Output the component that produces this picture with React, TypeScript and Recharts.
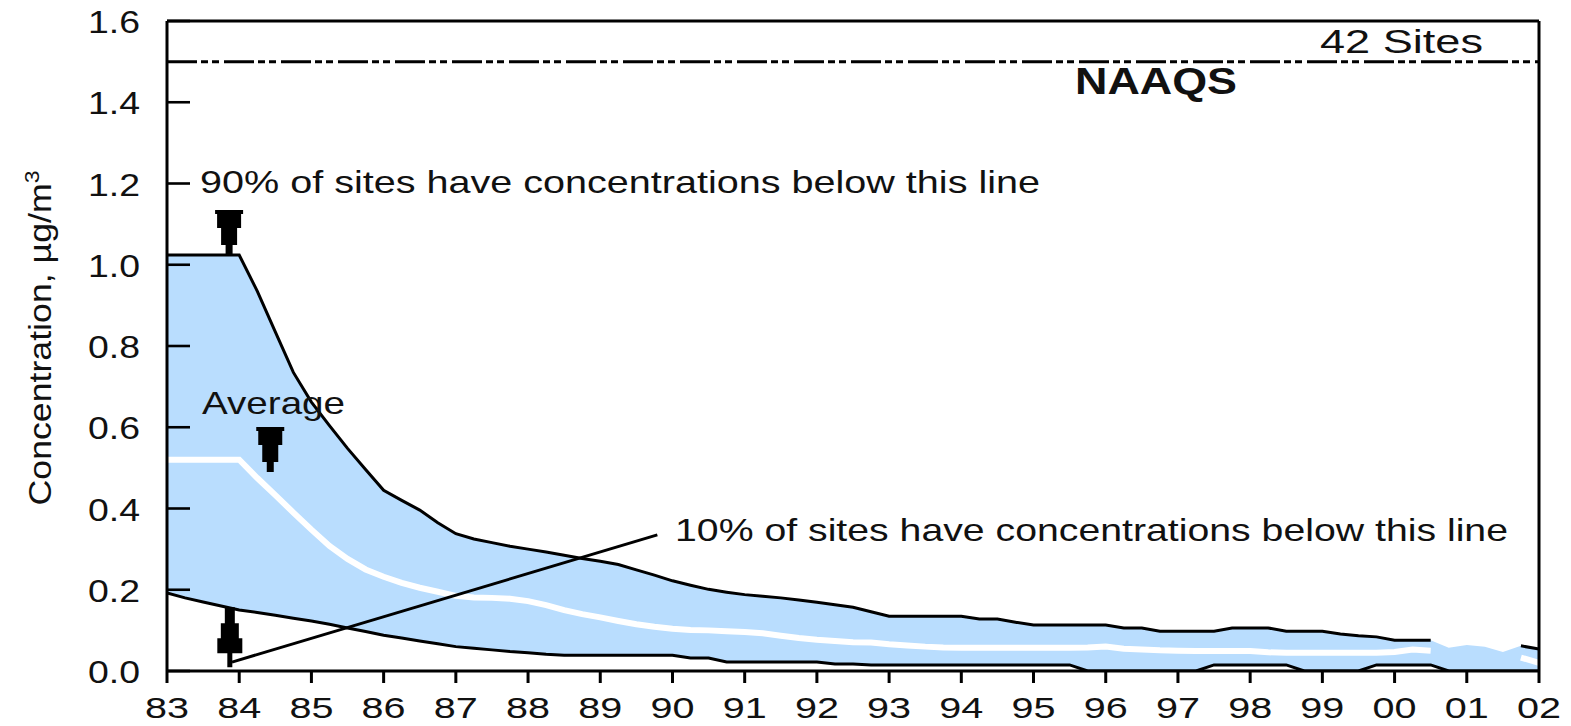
import React from "react";
import {
  ComposedChart,
  Area,
  Line,
  XAxis,
  YAxis,
  ReferenceLine,
  ReferenceDot,
} from "recharts";

// quarter-year sample points, 1983 .. 2002
const years = [
  1983, 1983.25, 1983.5, 1983.75, 1984, 1984.25, 1984.5, 1984.75, 1985, 1985.25,
  1985.5, 1985.75, 1986, 1986.25, 1986.5, 1986.75, 1987, 1987.25, 1987.5, 1987.75,
  1988, 1988.25, 1988.5, 1988.75, 1989, 1989.25, 1989.5, 1989.75, 1990, 1990.25,
  1990.5, 1990.75, 1991, 1991.25, 1991.5, 1991.75, 1992, 1992.25, 1992.5, 1992.75,
  1993, 1993.25, 1993.5, 1993.75, 1994, 1994.25, 1994.5, 1994.75, 1995, 1995.25,
  1995.5, 1995.75, 1996, 1996.25, 1996.5, 1996.75, 1997, 1997.25, 1997.5, 1997.75,
  1998, 1998.25, 1998.5, 1998.75, 1999, 1999.25, 1999.5, 1999.75, 2000, 2000.25,
  2000.5, 2000.75, 2001, 2001.25, 2001.5, 2001.75, 2002,
];

// 90th percentile (ug/m3)
const p90 = [
  1.024, 1.024, 1.024, 1.024, 1.024, 0.935, 0.835, 0.735, 0.662, 0.604,
  0.548, 0.496, 0.445, 0.42, 0.396, 0.365, 0.338, 0.325, 0.316, 0.307,
  0.3, 0.293, 0.285, 0.277, 0.27, 0.262, 0.249, 0.236, 0.222, 0.211,
  0.201, 0.194, 0.188, 0.184, 0.18, 0.175, 0.169, 0.163, 0.157, 0.146,
  0.135, 0.135, 0.135, 0.135, 0.135, 0.128, 0.128, 0.12, 0.113, 0.113,
  0.113, 0.113, 0.113, 0.106, 0.106, 0.098, 0.098, 0.098, 0.098, 0.106,
  0.106, 0.106, 0.098, 0.098, 0.098, 0.091, 0.087, 0.084, 0.076, 0.076,
  0.076, null, null, null, null, 0.062, 0.054,
];

// composite average
const avg = [
  0.52, 0.52, 0.52, 0.52, 0.52, 0.475, 0.433, 0.39, 0.348, 0.308,
  0.276, 0.25, 0.232, 0.217, 0.205, 0.195, 0.185, 0.181, 0.18, 0.178,
  0.172, 0.162, 0.15, 0.14, 0.132, 0.123, 0.115, 0.109, 0.104, 0.101,
  0.1, 0.098, 0.096, 0.093, 0.087, 0.081, 0.077, 0.074, 0.071, 0.07,
  0.066, 0.063, 0.06, 0.058, 0.057, 0.057, 0.057, 0.057, 0.057, 0.057,
  0.057, 0.058, 0.06, 0.055, 0.053, 0.051, 0.05, 0.049, 0.049, 0.049,
  0.049, 0.046, 0.045, 0.045, 0.045, 0.045, 0.045, 0.045, 0.047, 0.053,
  0.05, 0.057, 0.064, 0.06, 0.047, 0.033, 0.02,
];

// 10th percentile
const p10 = [
  0.192, 0.18, 0.17, 0.16, 0.15, 0.144, 0.137, 0.13, 0.123, 0.115,
  0.106, 0.097, 0.088, 0.081, 0.074, 0.067, 0.06, 0.056, 0.052, 0.048,
  0.045, 0.041, 0.039, 0.039, 0.039, 0.039, 0.039, 0.039, 0.039, 0.032,
  0.032, 0.022, 0.022, 0.022, 0.022, 0.022, 0.022, 0.017, 0.017, 0.015,
  0.015, 0.015, 0.015, 0.015, 0.015, 0.015, 0.015, 0.015, 0.015, 0.015,
  0.015, 0, 0, 0, 0, 0, 0, 0, 0.015, 0.015,
  0.015, 0.015, 0.015, 0, 0, 0, 0, 0.015, 0.015, 0.015,
  0.015, 0, 0, 0, 0, 0, 0,
];

const xTicks = [
  1983, 1984, 1985, 1986, 1987, 1988, 1989, 1990, 1991, 1992,
  1993, 1994, 1995, 1996, 1997, 1998, 1999, 2000, 2001, 2002,
];
const xTickLabels = [
  "83", "84", "85", "86", "87", "88", "89", "90", "91", "92",
  "93", "94", "95", "96", "97", "98", "99", "00", "01", "02",
];
const yTicks = [0, 0.2, 0.4, 0.6, 0.8, 1.0, 1.2, 1.4, 1.6];
const yTickLabels = ["0.0", "0.2", "0.4", "0.6", "0.8", "1.0", "1.2", "1.4", "1.6"];

const NAAQS = 1.5;

const FONT = '"Liberation Sans", Arial, Helvetica, sans-serif';
const INK = "#111";
const BAND = "#b9ddfe";

const chartData = years.map((year, i) => ({
  year,
  p90: p90[i],
  p10: p10[i],
  avg: p90[i] == null ? null : avg[i],
  band: [p10[i], p90[i] ?? avg[i]],
}));

const YTick = (props: any) => {
  const { x, y, payload } = props;
  const i = yTicks.findIndex((t) => Math.abs(t - payload.value) < 1e-6);
  const axisX = x + 27;
  return (
    <g>
      <line x1={axisX} x2={axisX + 23} y1={y} y2={y} stroke="#000" strokeWidth={2.6} />
      <text
        x={x}
        y={y + 12}
        textAnchor="end"
        fontSize={32}
        fontFamily={FONT}
        fill={INK}
        textLength={52}
        lengthAdjust="spacingAndGlyphs"
      >
        {yTickLabels[i]}
      </text>
    </g>
  );
};

const XTick = (props: any) => {
  const { x, y, payload } = props;
  const i = xTicks.indexOf(payload.value);
  return (
    <text
      x={x}
      y={y + 35}
      textAnchor="middle"
      fontSize={30}
      fontFamily={FONT}
      fill={INK}
      textLength={44}
      lengthAdjust="spacingAndGlyphs"
    >
      {xTickLabels[i]}
    </text>
  );
};

// stepped arrow pointing down, tip at (cx, cy)
const DownArrow = (props: any) => {
  const { cx, cy } = props;
  return (
    <path
      transform={`translate(${cx},${cy})`}
      d="M -14 -45 H 14 V -41 H 12 V -27 H 8 V -10 H 3.5 V 0 H -3.5 V -10 H -8 V -27 H -12 V -41 H -14 Z"
      fill="#000"
    />
  );
};

// stepped arrow pointing up, tip at (cx, cy)
const UpArrow = (props: any) => {
  const { cx, cy } = props;
  return (
    <path
      transform={`translate(${cx},${cy})`}
      d="M -5 0 H 5 V 16 H 9 V 31 H 12.5 V 46 H 2.5 V 60 H -2.5 V 46 H -12.5 V 31 H -9 V 16 H -5 Z"
      fill="#000"
    />
  );
};

const txt = {
  fontFamily: FONT,
  fill: INK,
} as const;

export default function App() {
  return (
    <div style={{ position: "absolute", left: 0, top: 0, width: 1571, height: 726, background: "#fff" }}>
      <ComposedChart
        width={1571}
        height={726}
        data={chartData}
        margin={{ top: 21, right: 32, left: 0, bottom: 0 }}
      >
        <XAxis
          dataKey="year"
          type="number"
          domain={[1983, 2002]}
          ticks={xTicks}
          allowDataOverflow
          height={55}
          tickSize={12}
          tickMargin={0}
          axisLine={{ stroke: "#000", strokeWidth: 3 }}
          tickLine={{ stroke: "#000", strokeWidth: 3 }}
          tick={<XTick />}
          interval={0}
        />
        <YAxis
          type="number"
          domain={[0, 1.6]}
          ticks={yTicks}
          allowDataOverflow
          width={167}
          tickSize={0}
          tickMargin={27}
          axisLine={{ stroke: "#000", strokeWidth: 3 }}
          tickLine={false}
          tick={<YTick />}
          interval={0}
        />
        <Area
          dataKey="band"
          type="linear"
          stroke="none"
          fill={BAND}
          fillOpacity={1}
          isAnimationActive={false}
        />
        <Line
          dataKey="avg"
          type="linear"
          stroke="#fff"
          strokeWidth={6}
          dot={false}
          activeDot={false}
          isAnimationActive={false}
        />
        <Line
          dataKey="p90"
          type="linear"
          stroke="#000"
          strokeWidth={3}
          dot={false}
          activeDot={false}
          connectNulls={false}
          isAnimationActive={false}
        />
        <Line
          dataKey="p10"
          type="linear"
          stroke="#000"
          strokeWidth={3}
          dot={false}
          activeDot={false}
          isAnimationActive={false}
        />
        <ReferenceLine y={1.6} stroke="#000" strokeWidth={3} />
        <ReferenceLine x={2002} stroke="#000" strokeWidth={3} />
        <ReferenceLine
          y={NAAQS}
          stroke="#000"
          strokeWidth={3}
          strokeDasharray="30 4 7 4 7 5"
        />
        <ReferenceLine
          segment={[
            { x: 1983.9, y: 0.022 },
            { x: 1989.79, y: 0.335 },
          ]}
          stroke="#000"
          strokeWidth={3}
        />
        <ReferenceDot x={1983.86} y={1.024} r={1} shape={<DownArrow />} />
        <ReferenceDot x={1984.43} y={0.49} r={1} shape={<DownArrow />} />
        <ReferenceDot x={1983.87} y={0.157} r={1} shape={<UpArrow />} />
      </ComposedChart>

      {/* annotations */}
      <svg
        width={1571}
        height={726}
        style={{ position: "absolute", left: 0, top: 0, pointerEvents: "none" }}
      >
        <text x={1320} y={53} fontSize={34} textLength={163} lengthAdjust="spacingAndGlyphs" {...txt}>
          42 Sites
        </text>
        <text x={1075} y={94} fontSize={36} fontWeight="bold" textLength={162} lengthAdjust="spacingAndGlyphs" {...txt}>
          NAAQS
        </text>
        <text x={200} y={193} fontSize={32} textLength={840} lengthAdjust="spacingAndGlyphs" {...txt}>
          90% of sites have concentrations below this line
        </text>
        <text x={202} y={414} fontSize={32} textLength={143} lengthAdjust="spacingAndGlyphs" {...txt}>
          Average
        </text>
        <text x={675} y={541} fontSize={32} textLength={833} lengthAdjust="spacingAndGlyphs" {...txt}>
          10% of sites have concentrations below this line
        </text>
        <text
          x={0}
          y={0}
          transform="translate(51,338) rotate(-90)"
          textAnchor="middle"
          fontSize={31}
          textLength={335}
          lengthAdjust="spacingAndGlyphs"
          {...txt}
        >
          Concentration, µg/m
          <tspan fontSize={20} dy={-12}>3</tspan>
        </text>
      </svg>
    </div>
  );
}
